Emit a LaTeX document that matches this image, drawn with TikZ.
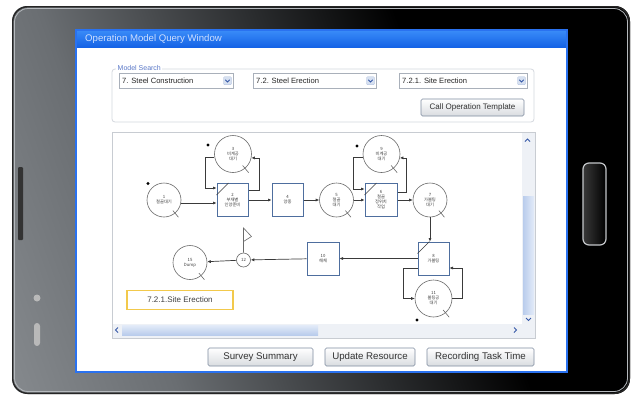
\documentclass[tikz,border=0pt]{standalone}
\usepackage{fontspec}
\setmainfont{Liberation Sans}
\newfontfamily\krfont{Noto Sans CJK KR}
\usetikzlibrary{arrows.meta,calc}
\definecolor{bzlight}{HTML}{A8ACB0}
\definecolor{bzmid}{HTML}{6A6E72}
\definecolor{bzdark}{HTML}{2A2C2E}
\definecolor{rimc}{HTML}{B5B9BD}
\definecolor{titletop}{HTML}{3A8CF8}
\definecolor{titlebot}{HTML}{1563E6}
\definecolor{framebl}{HTML}{2A72F0}
\definecolor{titletext}{HTML}{CFE0FF}
\definecolor{grpline}{HTML}{D4D8DE}
\definecolor{grplabel}{HTML}{5A78C8}
\definecolor{ddline}{HTML}{A9B0BA}
\definecolor{chevbg}{HTML}{D6E0F0}
\definecolor{chevfg}{HTML}{3558A8}
\definecolor{btnline}{HTML}{7F8CA0}
\definecolor{btnbot}{HTML}{D9DCE0}
\definecolor{paneline}{HTML}{C8CCD2}
\definecolor{scrollbg}{HTML}{EEF1F6}
\definecolor{thumbA}{HTML}{B9CCEC}
\definecolor{thumbB}{HTML}{E3EBF8}
\definecolor{boxblue}{HTML}{4E6E9E}
\definecolor{qgray}{HTML}{6A6A6A}
\definecolor{flowc}{HTML}{3A3A3A}
\definecolor{labelc}{HTML}{404040}
\definecolor{yellowc}{HTML}{F2C94C}
\pgfdeclarehorizontalshading{bezelshade}{100bp}{color(0bp)=(bzlight); color(32bp)=(bzmid); color(50bp)=(bzdark); color(62bp)=(black); color(100bp)=(black)}
\tikzset{
  nodetext/.style={font=\fontsize{4.3}{5}\selectfont\krfont, text=labelc, align=center, inner sep=0pt},
  queue/.style={circle, draw=qgray, line width=0.6pt, minimum size=34pt, nodetext, fill=white},
  bigqueue/.style={queue, minimum size=37pt},
  normal/.style={rectangle, draw=boxblue, line width=1pt, minimum width=31pt, minimum height=33pt, nodetext, fill=white},
  flow/.style={draw=flowc, line width=0.7pt, -{Latex[length=3.5pt,width=3.2pt]}},
  ddbox/.style={draw=ddline, fill=white, line width=0.5pt, minimum height=15pt, inner sep=0pt, anchor=north west},
  ddtext/.style={font=\fontsize{7.6}{9}\selectfont, text=black!85, anchor=west, inner sep=0pt},
  chev/.style={fill=chevbg, draw=chevbg!70!chevfg, line width=0.3pt, rounded corners=1pt, minimum size=8pt, inner sep=0pt},
  uibtn/.style={draw=btnline, line width=0.6pt, rounded corners=1.5pt, top color=white, bottom color=btnbot, inner sep=0pt, text=black!80},
  chevline/.style={draw=chevfg, line width=0.8pt},
}
\begin{document}
\begin{tikzpicture}[x=1pt,y=-1pt]
\useasboundingbox (0,0) rectangle (633,397);
\fill[white] (0,0) rectangle (633,397);
% tablet body
\shade[shading=bezelshade, shading angle=20, rounded corners=15pt] (12,6) rectangle (630,394);
\draw[black!85, line width=1.4pt, rounded corners=15pt] (12.7,6.7) rectangle (629.3,393.3);
\draw[rimc, line width=0.8pt, rounded corners=13.5pt] (14.5,8.5) rectangle (627.5,391.5);
% side details
\fill[black!80, rounded corners=1pt] (18,167) rectangle (23,240);
\fill[gray!55] (37,298) circle (3.5);
\fill[gray!55, rounded corners=3pt] (34,323) rectangle (40,346);
% home button
\shade[left color=gray!45!black, right color=black, rounded corners=6pt] (583,163) rectangle (606,245);
\draw[rimc!80!white, line width=1.2pt, rounded corners=6pt] (583,163) rectangle (606,245);
% screen
\fill[white] (76,30) rectangle (567,372);
\shade[top color=titletop, bottom color=titlebot] (76,30) rectangle (567,47);
\draw[framebl, line width=1.2pt] (76,30) rectangle (567,372);
\node[anchor=west, font=\fontsize{9.6}{11}\selectfont, text=titletext, inner sep=0pt] (title) at (85,39) {Operation Model Query Window};
% model search group
\draw[grpline, line width=0.8pt, rounded corners=3pt] (112,69) rectangle (534,122);
\node[anchor=west, fill=white, inner xsep=1.5pt, inner ysep=0.5pt, font=\fontsize{7}{8}\selectfont, text=grplabel] (grp) at (116,68) {Model Search};
\node[ddbox, minimum width=114pt] (dd1) at (119,73) {};
\node[ddtext] (dd1t) at ([xshift=3pt]dd1.west) {7. Steel Construction};
\node[chev] (c1) at ([xshift=-6pt]dd1.east) {};
\node[ddbox, minimum width=123pt] (dd2) at (253,73) {};
\node[ddtext] (dd2t) at ([xshift=3pt]dd2.west) {7.2. Steel Erection};
\node[chev] (c2) at ([xshift=-6pt]dd2.east) {};
\node[ddbox, minimum width=128pt] (dd3) at (399,73) {};
\node[ddtext] (dd3t) at ([xshift=3pt]dd3.west) {7.2.1. Site Erection};
\node[chev] (c3) at ([xshift=-6pt]dd3.east) {};
\foreach \c in {c1,c2,c3}
  \draw[chevline] ($(\c.center)+(-2.2,-1)$) -- ($(\c.center)+(0,1.2)$) -- ($(\c.center)+(2.2,-1)$);
\node[uibtn, minimum width=103pt, minimum height=17pt, font=\fontsize{8}{9}\selectfont] (callbtn) at (472.5,107.5) {Call Operation Template};
% diagram pane
\draw[paneline, line width=0.7pt] (112,132) rectangle (535,338);
\fill[scrollbg] (522,133) rectangle (534.5,324);
\shade[left color=thumbA, right color=thumbB] (523,196) rectangle (534,314);
\fill[scrollbg] (112.5,324) rectangle (534.5,337.5);
\shade[top color=thumbB, bottom color=thumbA] (122,325) rectangle (318,335);
\draw[chevline] (118,327.5) -- (115.5,330) -- (118,332.5);
\draw[chevline] (514,327.5) -- (516.5,330) -- (514,332.5);
\draw[chevline] (525,141.5) -- (527.5,139) -- (530,141.5);
\draw[chevline] (526,318) -- (528.5,320.5) -- (531,318);
% nodes
\node[queue] (n1) at (164,200) {1\\철골대기};
\node[normal] (n2) at (232.5,200) {2\\부재별\\인양준비};
\node[bigqueue] (n3) at (233,154) {3\\비계공\\대기};
\node[normal] (n4) at (287.5,200) {4\\양중};
\node[queue] (n5) at (336.5,200) {5\\철골\\대기};
\node[normal, minimum width=32pt] (n6) at (381,200) {6\\철골\\정위치\\작업};
\node[bigqueue] (n9) at (381.5,154) {9\\비계공\\대기};
\node[queue] (n7) at (430,200) {7\\가볼팅\\대기};
\node[normal] (n8) at (433.5,258.5) {8\\가볼팅};
\node[bigqueue] (n11) at (433.5,298.5) {11\\볼팅공\\대기};
\node[normal, minimum width=32pt] (n10) at (323,258.5) {10\\해체};
\node[circle, draw=qgray, line width=0.6pt, minimum size=14pt, nodetext] (n12) at (243.5,260) {12};
\node[queue] (n15) at (190,262.5) {15\\Dump};
% queue slashes and combi slashes
\foreach \n in {n1,n3,n5,n7,n9,n11,n15}
  \draw[qgray, line width=0.6pt] ($(\n.center)!0.8!(\n.-50)$) -- ($(\n.center)!1.3!(\n.-50)$);
\foreach \n in {n2,n6,n8}
  \draw[flowc, line width=0.6pt] ($(\n.north west)+(0,12)$) -- ($(\n.north west)+(12,0)$);
% flag
\coordinate (flagtop) at (243.5,228);
\draw[qgray, line width=0.6pt] (n12.north) -- (flagtop) -- ++(8,8.5) -- ++(-8,5);
% dots
\fill (208,145) circle (1.7);
\fill (148,183.5) circle (1.7);
\fill (357,146) circle (1.7);
\fill (417,320) circle (1.7);
% connectors
\coordinate (a3) at (205,188);
\coordinate (b3) at (259,190);
\coordinate (a9) at (353,189);
\coordinate (b9) at (406,192);
\coordinate (a11) at (403,268);
\coordinate (b11) at (462,268);
\draw[flow] (n1.-10) -- (n1.-10 -| n2.west);
\draw[flow] (n3.190) -| (a3) -- (a3 -| n2.west);
\draw[flow] (b3 -| n2.east) -- (b3) |- (n3.-12);
\draw[flow] (n2) -- (n4);
\draw[flow] (n4) -- (n5);
\draw[flow] (n5) -- (n6);
\draw[flow] (n9.190) -| (a9) -- (a9 -| n6.west);
\draw[flow] (b9 -| n6.east) -- (b9) |- (n9.-12);
\draw[flow] (n6) -- (n7);
\draw[flow] (n7.south) -- (n7.south |- n8.north);
\draw[flow] (n8) -- (n10);
\draw[flow] (a11 -| n8.west) -- (a11) |- (n11.west);
\draw[flow] (n11.east) -| (b11) -- (b11 -| n8.east);
\draw[flow] (n10) -- (n12);
\draw[flow] (n12) -- (n15);
% label box
\node[draw=yellowc, line width=1.3pt, minimum width=106pt, minimum height=19pt, font=\fontsize{8}{9}\selectfont, text=black!75] (site) at (180,300) {7.2.1.Site Erection};
% bottom buttons
\node[uibtn, minimum width=105pt, minimum height=18pt, font=\fontsize{9.7}{11}\selectfont] (b1) at (260.5,357) {Survey Summary};
\node[uibtn, minimum width=90pt, minimum height=18pt, font=\fontsize{9.7}{11}\selectfont] (b2) at (370,357) {Update Resource};
\node[uibtn, minimum width=107pt, minimum height=18pt, font=\fontsize{9.7}{11}\selectfont] (b3) at (480.5,357) {Recording Task Time};
\end{tikzpicture}
\end{document}
